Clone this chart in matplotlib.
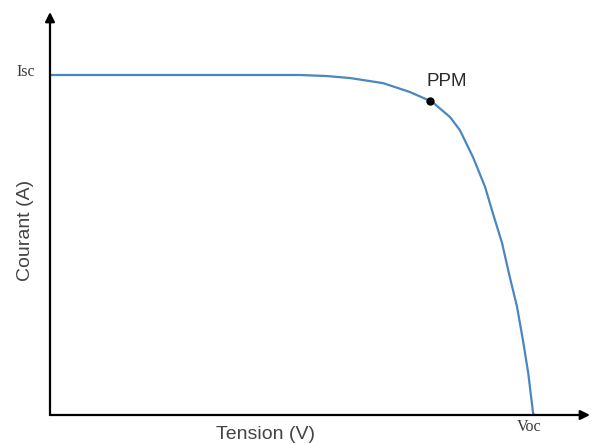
import matplotlib.pyplot as plt
import numpy as np

# === Data (normalised: Voc = 1, Isc = 1) ===
tension = [0.0, 0.30, 0.515, 0.57, 0.619, 0.687, 0.742, 0.788, 0.825, 0.845,
           0.872, 0.897, 0.913, 0.932, 0.948, 0.963, 0.975, 0.986, 0.996, 0.998]
courant = [1.0, 1.0, 1.0, 0.997, 0.991, 0.976, 0.950, 0.921, 0.876, 0.838,
           0.759, 0.671, 0.594, 0.506, 0.406, 0.318, 0.221, 0.124, 0.006, 0.0]
ppm = (0.784, 0.924)

fig = plt.figure(figsize=(5.92, 4.44), dpi=100)
ax = fig.add_axes([50 / 592, 29 / 444, 540 / 592, 403 / 444])
ax.set_xlim(0, 540 / 485)
ax.set_ylim(0, 403 / 340)
ax.axis('off')

ax.plot(tension, courant, color='#4a86c0', lw=1.6, solid_joinstyle='round')
ax.plot(*ppm, 'o', color='black', ms=5)

# === Axes arrows ===
arrow = dict(arrowstyle='-|>', color='black', lw=1.6, mutation_scale=14,
             shrinkA=0, shrinkB=0)
ax.annotate('', xy=(0, 1), xytext=(0, 0), xycoords='axes fraction', arrowprops=arrow)
ax.annotate('', xy=(1, 0), xytext=(0, 0), xycoords='axes fraction', arrowprops=arrow)

# === Labels (figure pixel positions) ===
def px(x, y):
    return x / 592, 1 - y / 444

fig.text(*px(427, 81), 'PPM', fontsize=13.5, color='#2a2a2a',
         family='Liberation Sans', ha='left', va='center')
fig.text(*px(35, 72), 'Isc', fontsize=11.5, family='Liberation Serif', color='#3a3a3a',
         ha='right', va='center')
fig.text(*px(529, 427), 'Voc', fontsize=11.5, family='Liberation Serif', color='#3a3a3a',
         ha='center', va='center')
fig.text(*px(266, 434), 'Tension (V)', fontsize=14, family='Liberation Sans',
         color='#444444', ha='center', va='center')
fig.text(*px(26, 230), 'Courant (A)', fontsize=14, family='Liberation Sans',
         color='#444444', ha='center', va='center', rotation=90)

plt.savefig('out.png', dpi=100, facecolor='white')
